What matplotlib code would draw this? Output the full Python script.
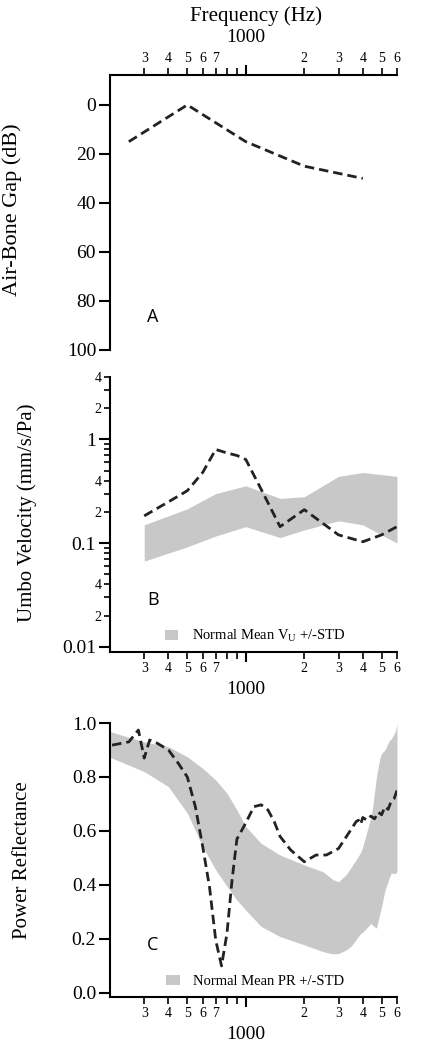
#!/usr/bin/env python3
"""Air-bone gap, umbo velocity and power reflectance vs frequency (panels A-C)."""

import math

import matplotlib

matplotlib.use("Agg")

import matplotlib.pyplot as plt
from matplotlib.patches import Patch
from matplotlib.ticker import FixedLocator, FuncFormatter

plt.rcParams["font.family"] = ["Liberation Serif", "DejaVu Serif"]
plt.rcParams["mathtext.fontset"] = "custom"
plt.rcParams["mathtext.rm"] = "Liberation Serif"

BAND = "#c8c8c8"
LINE = "#222222"
DASH = (0, (3.4, 1.8))
LW = 2.0

# panel A: audiogram air-bone gap
abg_freq = [250, 500, 1000, 2000, 4000]
abg_db = [15, 0, 15, 25, 30]

# panel B: umbo velocity, normal band and patient
vu_band_freq = [300, 500, 700, 1000, 1500, 2000, 3000, 4000, 6000]
vu_upper = [0.15, 0.214, 0.30, 0.357, 0.27, 0.28, 0.44, 0.48, 0.44]
vu_lower = [0.067, 0.092, 0.117, 0.144, 0.113, 0.134, 0.164, 0.15, 0.10]
vu_freq = [300, 400, 500, 600, 700, 800, 900, 1000, 1200, 1500, 2000, 3000, 4000, 5000, 6000]
vu_val = [0.183, 0.25, 0.32, 0.48, 0.80, 0.74, 0.70, 0.64, 0.33, 0.144, 0.21, 0.12, 0.103, 0.12, 0.144]

# panel C: power reflectance, normal band and patient
pr_band_freq = [200, 300, 400, 500, 600, 700, 800, 900, 1000, 1200, 1500, 2000, 2500,
                2800, 3000, 3300, 3500, 3900, 4000, 4400, 4500, 4700, 4900, 5000, 5200,
                5500, 5600, 5900, 6000]
pr_upper = [0.968, 0.93, 0.912, 0.875, 0.832, 0.789, 0.74, 0.678, 0.616, 0.554, 0.511,
            0.474, 0.449, 0.42, 0.412, 0.44, 0.467, 0.52, 0.542, 0.65, 0.69, 0.80, 0.87,
            0.888, 0.90, 0.937, 0.94, 0.97, 1.0]
pr_lower = [0.873, 0.82, 0.764, 0.666, 0.542, 0.456, 0.395, 0.344, 0.307, 0.246, 0.209,
            0.178, 0.153, 0.145, 0.146, 0.16, 0.175, 0.22, 0.225, 0.257, 0.25, 0.24, 0.295,
            0.32, 0.38, 0.43, 0.443, 0.443, 0.45]
pr_freq = [205, 250, 280, 300, 320, 350, 400, 450, 500, 550, 600, 650, 700, 750, 800, 850,
           900, 1000, 1100, 1200, 1300, 1400, 1500, 1700, 2000, 2300, 2600, 3000, 3300,
           3700, 3800, 3900, 4000, 4200, 4400, 4600, 4800, 5000, 5200, 5400, 5600, 5800, 6000]
pr_val = [0.918, 0.93, 0.974, 0.87, 0.937, 0.925, 0.90, 0.85, 0.80, 0.69, 0.542, 0.394,
          0.196, 0.10, 0.221, 0.42, 0.57, 0.63, 0.69, 0.697, 0.678, 0.635, 0.58, 0.53, 0.486,
          0.511, 0.511, 0.535, 0.58, 0.635, 0.64, 0.625, 0.65, 0.64, 0.655, 0.645, 0.67,
          0.66, 0.69, 0.68, 0.71, 0.72, 0.75]

minor_freqs = [300, 400, 500, 600, 700, 800, 900, 2000, 3000, 4000, 5000, 6000]
labelled_minor = {300, 400, 500, 600, 700, 2000, 3000, 4000, 5000, 6000}


def freq_minor_label(v, pos):
    v = int(round(v))
    if v not in labelled_minor:
        return ""
    return str(v // 1000) if v >= 1000 else str(v // 100)


def log_minor_label(v, pos):
    mant = int(round(v / 10 ** math.floor(math.log10(v) + 1e-9)))
    return str(mant) if mant in (2, 4) else ""


def setup_freq_axis(ax, top):
    ax.set_xscale("log")
    ax.set_xlim(200, 6000)
    ax.xaxis.set_major_locator(FixedLocator([1000]))
    ax.xaxis.set_minor_locator(FixedLocator(minor_freqs))
    ax.xaxis.set_major_formatter(FuncFormatter(lambda v, p: "1000"))
    ax.xaxis.set_minor_formatter(FuncFormatter(freq_minor_label))
    if top:
        ax.xaxis.set_ticks_position("top")
        ax.spines["bottom"].set_visible(False)
    else:
        ax.spines["top"].set_visible(False)
    ax.spines["right"].set_visible(False)
    ax.tick_params(axis="x", which="major", length=7, width=1.5, labelsize=14, pad=14)
    ax.tick_params(axis="x", which="minor", length=5, width=1.2, labelsize=10, pad=2)


def style_spines(ax):
    for s in ax.spines.values():
        s.set_linewidth(1.5)
    ax.tick_params(axis="y", which="major", length=8, width=1.5, labelsize=14, pad=2)


def panel_legend(ax, label):
    ax.legend(handles=[Patch(facecolor=BAND, edgecolor="none", label=label)],
              loc="center", bbox_to_anchor=(0.505, 0.058), frameon=False, fontsize=10.5,
              handlelength=0.95, handleheight=0.7, handletextpad=0.9, borderpad=0)


def panel_letter(ax, y, letter):
    ax.text(0.15, y, letter, transform=ax.transAxes, fontsize=13, family="Open Sans",
            ha="center", va="center")


fig = plt.figure(figsize=(4.22, 10.49), dpi=100)
W, H = 422, 1049


def add_panel(top_px, bottom_px):
    return fig.add_axes([110 / W, 1 - bottom_px / H, 287 / W, (bottom_px - top_px) / H])


# --- A ---
ax = add_panel(75, 350)
ax.plot(abg_freq, abg_db, color=LINE, lw=LW, ls=DASH)
ax.set_ylim(100, -12.2)
ax.set_yticks([0, 20, 40, 60, 80, 100])
setup_freq_axis(ax, top=True)
style_spines(ax)
ax.set_ylabel("Air-Bone Gap (dB)", fontsize=16)
ax.yaxis.set_label_coords(-0.307, 0.51)
panel_letter(ax, 0.12, "A")

# --- B ---
ax = add_panel(377, 652)
ax.fill_between(vu_band_freq, vu_lower, vu_upper, color=BAND, lw=0)
ax.plot(vu_freq, vu_val, color=LINE, lw=LW, ls=DASH)
ax.set_yscale("log")
ax.set_ylim(0.0089, 4)
ax.yaxis.set_major_locator(FixedLocator([0.01, 0.1, 1]))
ax.yaxis.set_major_formatter(FuncFormatter(lambda v, p: f"{v:g}"))
ax.yaxis.set_minor_locator(FixedLocator([m * d for d in (0.01, 0.1, 1) for m in range(2, 10)
                                         if m * d <= 4]))
ax.yaxis.set_minor_formatter(FuncFormatter(log_minor_label))
ax.tick_params(axis="y", which="minor", length=4, width=1.2, labelsize=10, pad=2)
setup_freq_axis(ax, top=False)
style_spines(ax)
ax.set_ylabel("Umbo Velocity (mm/s/Pa)", fontsize=15)
ax.yaxis.set_label_coords(-0.254, 0.505)
panel_letter(ax, 0.19, "B")
panel_legend(ax, r"Normal Mean $\mathrm{V_U}$ +/-STD")

# --- C ---
ax = add_panel(723, 997)
ax.fill_between(pr_band_freq, pr_lower, pr_upper, color=BAND, lw=0)
ax.plot(pr_freq, pr_val, color=LINE, lw=LW, ls=DASH)
ax.set_ylim(-0.015, 1.0)
ax.set_yticks([0.0, 0.2, 0.4, 0.6, 0.8, 1.0])
ax.yaxis.set_major_formatter(FuncFormatter(lambda v, p: f"{v:.1f}"))
setup_freq_axis(ax, top=False)
style_spines(ax)
ax.set_ylabel("Power Reflectance", fontsize=15)
ax.yaxis.set_label_coords(-0.272, 0.5)
panel_letter(ax, 0.19, "C")
panel_legend(ax, "Normal Mean PR +/-STD")

fig.text(256 / W, 1 - 16 / H, "Frequency (Hz)", ha="center", va="center", fontsize=15)

fig.savefig("out.png", dpi=100)
